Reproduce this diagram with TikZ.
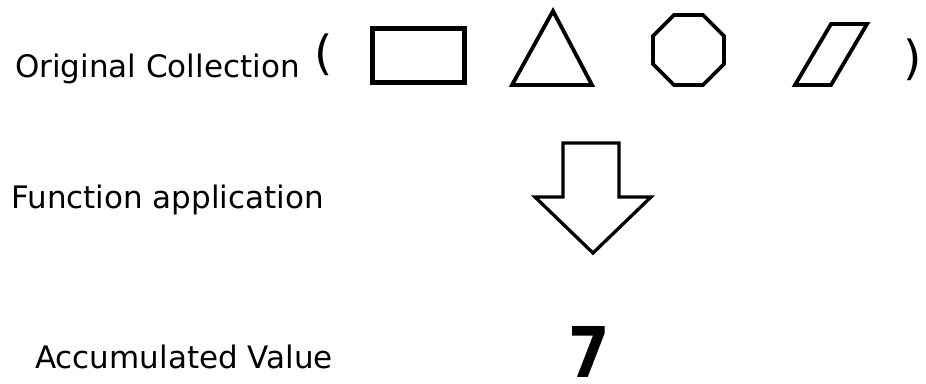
\documentclass[tikz,border=0pt]{standalone}
\usepackage{fontspec}
\setmainfont{DejaVu Sans}
\begin{document}
\begin{tikzpicture}[x=1pt,y=-1pt,
  outl/.style={draw=black,line width=3.8pt,line join=miter,fill=white},
  lbl/.style={anchor=base west,inner sep=0pt,font=\fontsize{31}{31}\selectfont},
  paren/.style={anchor=base,inner sep=0pt,font=\fontsize{47}{47}\selectfont}]
\useasboundingbox[fill=white] (0,0) rectangle (926,383);
% labels
\node[lbl] (orig) at (15,77) {Original Collection};
\node[lbl] (func) at (11,208) {Function application};
\node[lbl] (acc) at (35,368) {Accumulated Value};
% parentheses
\node[paren] (lp) at (324,69) {(};
\node[paren] (rp) at (913,74) {)};
% shapes
\draw[outl,line width=5pt] (372.5,28.5) rectangle (464.5,82.5);
\draw[outl] (553,11) -- (592,85) -- (512,85) -- cycle;
\draw[outl] (674,15) -- (703,15) -- (724,36) -- (724,64) -- (703,85) -- (674,85) -- (653,64) -- (653,36) -- cycle;
\draw[outl] (831,24) -- (867,24) -- (831,85) -- (795,85) -- cycle;
% arrow
\draw[outl,line width=3.3pt] (563,143) -- (619,143) -- (619,197) -- (651,197) -- (593,253) -- (535,197) -- (563,197) -- cycle;
% value
\node[anchor=base,inner sep=0pt,text depth=0pt,font=\fontsize{70}{70}\selectfont\bfseries] (val) at (589,377) {\scalebox{0.85}[1]{7}};
\end{tikzpicture}
\end{document}
